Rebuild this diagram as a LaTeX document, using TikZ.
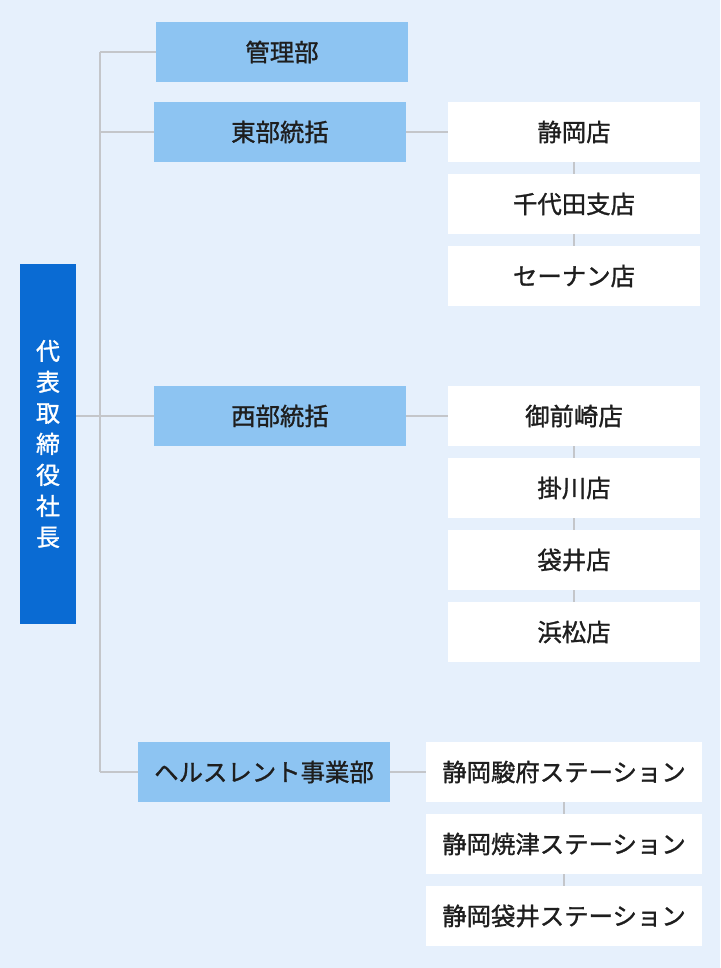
\documentclass[tikz,border=0pt]{standalone}
\usepackage{fontspec}
\setmainfont{Noto Sans CJK JP}[FakeBold=1.2,BoldFont=Noto Sans CJK JP]
\definecolor{bgc}{HTML}{E6F0FC}
\definecolor{midb}{HTML}{8DC4F2}
\definecolor{darkb}{HTML}{0A6BD3}
\definecolor{linec}{HTML}{C4C6CA}
\definecolor{txt}{HTML}{1E1E1E}
\begin{document}
\begin{tikzpicture}[x=1pt,y=-1pt,
  base/.style={inner sep=0pt,outer sep=0pt,font=\fontsize{24.4}{28}\selectfont\bfseries,text=txt},
  dept/.style={base,fill=midb,minimum width=252pt,minimum height=60pt},
  store/.style={base,fill=white,minimum width=252pt,minimum height=60pt},
  station/.style={base,fill=white,minimum width=276pt,minimum height=60pt},
  conn/.style={draw=linec,line width=2pt}]
\fill[bgc] (0,0) rectangle (720,968);
\useasboundingbox (0,0) rectangle (720,968);
% nodes
\node[base,fill=darkb,text=white,minimum width=56pt,minimum height=360pt,align=center,
  font=\fontsize{24}{31}\selectfont\bfseries] (ceo) at (48,444) {代\\表\\取\\締\\役\\社\\長};
\node[dept] (kanri) at (282,52) {管理部};
\node[dept] (east) at (280,132) {東部統括};
\node[dept] (west) at (280,416) {西部統括};
\node[dept] (health) at (264,772) {ヘルスレント事業部};
\node[store] (s1) at (574,132) {静岡店};
\node[store] (s2) at (574,204) {千代田支店};
\node[store] (s3) at (574,276) {セーナン店};
\node[store] (w1) at (574,416) {御前崎店};
\node[store] (w2) at (574,488) {掛川店};
\node[store] (w3) at (574,560) {袋井店};
\node[store] (w4) at (574,632) {浜松店};
\node[station] (t1) at (564,772) {静岡駿府ステーション};
\node[station] (t2) at (564,844) {静岡焼津ステーション};
\node[station] (t3) at (564,916) {静岡袋井ステーション};
\coordinate (trunktop) at (100,52);
\coordinate (trunkbot) at (100,772);
% connectors
\draw[conn] (trunktop) -- (trunkbot);
\draw[conn] (trunktop) -- (kanri.west);
\draw[conn] (trunktop |- east.west) -- (east.west);
\draw[conn] (ceo.east |- west.west) -- (west.west);
\draw[conn] (trunkbot) -- (health.west);
\draw[conn] (east.east) -- (s1.west);
\draw[conn] (west.east) -- (w1.west);
\draw[conn] (health.east) -- (t1.west);
\draw[conn] (s1.south) -- (s2.north);
\draw[conn] (s2.south) -- (s3.north);
\draw[conn] (w1.south) -- (w2.north);
\draw[conn] (w2.south) -- (w3.north);
\draw[conn] (w3.south) -- (w4.north);
\draw[conn] (t1.south) -- (t2.north);
\draw[conn] (t2.south) -- (t3.north);
\end{tikzpicture}
\end{document}
